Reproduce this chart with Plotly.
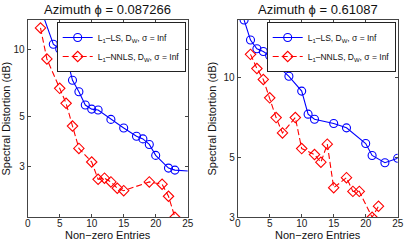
import plotly.graph_objects as go
import numpy as np

# Left panel (azimuth 0.087266)
left_ls_x = [2, 4, 5, 6, 7, 8, 9, 10, 11, 13, 15, 17, 18, 19, 20, 22, 23, 26]
left_ls_y = [15.2, 10.5, 10.0, 9.4, 7.26, 6.46, 5.64, 5.41, 5.36, 4.87, 4.46, 4.10, 3.99, 3.77, 3.37, 2.96, 2.90, 2.86]
left_nnls_x = [2, 3, 5, 6, 7, 8, 10, 11, 12, 13, 14, 15, 19, 21, 22, 23]
left_nnls_y = [12.4, 9.03, 6.69, 5.74, 4.55, 3.62, 3.15, 2.64, 2.67, 2.57, 2.41, 2.35, 2.57, 2.51, 2.22, 1.79]

# Right panel (azimuth 0.61087)
right_ls_x = [1, 2, 3, 4, 5, 6, 8, 10, 11, 12, 15, 17, 20, 21, 23, 25]
right_ls_y = [16.4, 13.8, 12.8, 12.5, 12.05, 11.2, 10.1, 8.89, 7.29, 6.98, 6.73, 6.48, 5.66, 5.11, 4.80, 4.99]
right_nnls_x = [2, 3, 4, 5, 6, 7, 9, 10, 12, 13, 14, 15, 17, 18, 19, 21, 22]
right_nnls_y = [12.2, 10.8, 9.83, 8.39, 7.08, 6.20, 7.08, 5.42, 5.15, 4.82, 5.63, 3.87, 4.22, 3.75, 3.75, 3.0, 3.30]

titles = ["Azimuth \u03d5 = 0.087266", "Azimuth \u03d5 = 0.61087"]
ls_name = "L<sub>1</sub>\u2013LS, D<sub>W</sub>, \u03c3 = Inf"
nnls_name = "L<sub>1</sub>\u2013NNLS, D<sub>W</sub>, \u03c3 = Inf"
x_ticks = [0, 5, 10, 15, 20, 25]
y_ticks = [3, 5, 10]
y_ranges = [(1.79, 13.45), (3.0, 16.4)]

W, H = 407, 241
FONT = "Liberation Sans, Arial, sans-serif"
BLUE = "#0000ff"
RED = "#ff0000"

fig = go.Figure()

panels = [
    (left_ls_x, left_ls_y, left_nnls_x, left_nnls_y),
    (right_ls_x, right_ls_y, right_nnls_x, right_nnls_y),
]
xdom = [(27.7 / W, 187.7 / W), (237.7 / W, 397.7 / W)]
ydom = ((H - 217.3) / H, (H - 20) / H)

for i, (lx, ly, nx, ny) in enumerate(panels):
    xa = "x" if i == 0 else "x2"
    ya = "y" if i == 0 else "y2"
    lg = "legend" if i == 0 else "legend2"
    fig.add_trace(go.Scatter(
        x=lx, y=ly, xaxis=xa, yaxis=ya, name=ls_name, legend=lg,
        mode="lines+markers",
        line=dict(color=BLUE, width=1.1),
        marker=dict(symbol="circle-open", size=8, color=BLUE, line=dict(width=1.1)),
    ))
    fig.add_trace(go.Scatter(
        x=nx, y=ny, xaxis=xa, yaxis=ya, name=nnls_name, legend=lg,
        mode="lines+markers",
        line=dict(color=RED, width=1.1, dash="6px,3px"),
        marker=dict(symbol="diamond-open", size=8, color=RED, line=dict(width=1.1)),
    ))

axis_common = dict(
    showgrid=False, zeroline=False, showline=True, linecolor="#444", linewidth=1,
    mirror="allticks", ticks="inside", ticklen=3, tickcolor="#444",
    tickfont=dict(family=FONT, size=10, color="#222"), automargin=False,
)

for i in range(2):
    sfx = "" if i == 0 else "2"
    fig.update_layout(**{
        "xaxis" + sfx: dict(
            domain=list(xdom[i]), range=[0, 25], tickvals=x_ticks,
            anchor="y" + sfx, ticklabelstandoff=-3,
            title=dict(text="Non\u2212zero Entries", font=dict(family=FONT, size=11, color="#111"), standoff=0),
            **axis_common,
        ),
        "yaxis" + sfx: dict(
            domain=list(ydom), type="log",
            range=[np.log10(y_ranges[i][0]), np.log10(y_ranges[i][1])],
            tickvals=y_ticks, ticktext=[str(t) for t in y_ticks],
            anchor="x" + sfx,
            title=dict(text="Spectral Distortion (dB)", font=dict(family=FONT, size=11, color="#111"), standoff=4),
            **axis_common,
        ),
    })

legend_common = dict(
    bgcolor="white", bordercolor="#222", borderwidth=1,
    font=dict(family=FONT, size=8.5, color="#111"),
    xanchor="right", yanchor="top", tracegroupgap=0, itemwidth=30,
)
fig.update_layout(
    legend=dict(x=xdom[0][1] - 2 / W, y=ydom[1] - 2 / H, **legend_common),
    legend2=dict(x=xdom[1][1] - 2 / W, y=ydom[1] - 2 / H, **legend_common),
)

for i in range(2):
    fig.add_annotation(
        text=titles[i], xref="paper", yref="paper",
        x=(xdom[i][0] + xdom[i][1]) / 2, y=ydom[1] + 1.5 / H,
        xanchor="center", yanchor="bottom", showarrow=False,
        font=dict(family=FONT, size=13, color="#111"),
    )

fig.update_layout(
    template="none",
    width=W, height=H, margin=dict(l=0, r=0, t=0, b=0, pad=0),
    paper_bgcolor="white", plot_bgcolor="white", showlegend=True,
)

fig.write_html(
    "out.html",
    config={"displayModeBar": False},
    post_script="document.body.style.margin='0';document.body.style.padding='0';document.documentElement.style.overflow='hidden';",
)
